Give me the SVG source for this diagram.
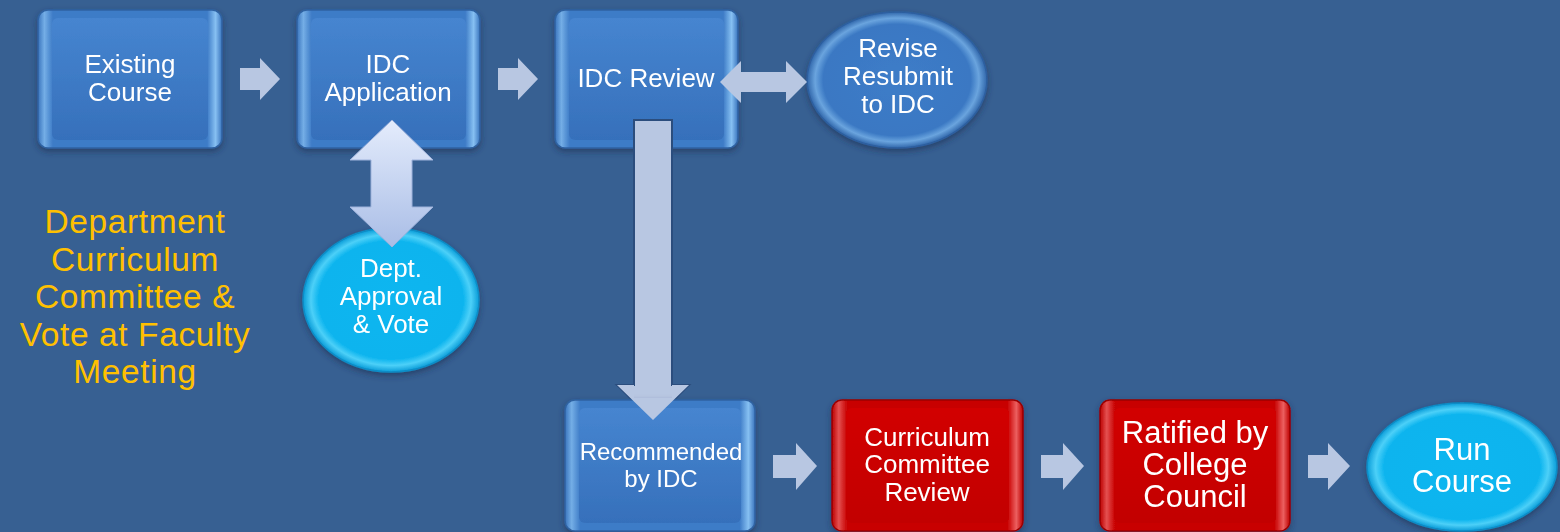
<svg xmlns="http://www.w3.org/2000/svg" width="1560" height="532" viewBox="0 0 1560 532">
<defs>
<linearGradient id="bEdge" x1="0" y1="0" x2="1" y2="0">
<stop offset="0" stop-color="#3a74bd"/><stop offset="0.035" stop-color="#74aee6"/><stop offset="0.08" stop-color="#3e7cc7"/><stop offset="0.92" stop-color="#3e7cc7"/><stop offset="0.965" stop-color="#86c0f2"/><stop offset="1" stop-color="#3a74bd"/>
</linearGradient>
<linearGradient id="bFace" x1="0" y1="0" x2="0" y2="1">
<stop offset="0" stop-color="#4685d0"/><stop offset="1" stop-color="#3670bb"/>
</linearGradient>
<linearGradient id="rEdge" x1="0" y1="0" x2="1" y2="0">
<stop offset="0" stop-color="#bc0000"/><stop offset="0.035" stop-color="#e45050"/><stop offset="0.08" stop-color="#c80000"/><stop offset="0.92" stop-color="#c80000"/><stop offset="0.965" stop-color="#ec6060"/><stop offset="1" stop-color="#bc0000"/>
</linearGradient>
<linearGradient id="rFace" x1="0" y1="0" x2="0" y2="1">
<stop offset="0" stop-color="#d20000"/><stop offset="1" stop-color="#c20000"/>
</linearGradient>
<radialGradient id="cyanE" cx="0.5" cy="0.5" r="0.5">
<stop offset="0" stop-color="#08b6f0"/><stop offset="0.82" stop-color="#0cb4ee"/><stop offset="0.91" stop-color="#4cd0f8"/><stop offset="1" stop-color="#0a9cd8"/>
</radialGradient>
<radialGradient id="blueE" cx="0.5" cy="0.5" r="0.5">
<stop offset="0" stop-color="#3d7cc8"/><stop offset="0.82" stop-color="#3a78c3"/><stop offset="0.91" stop-color="#6aa4de"/><stop offset="1" stop-color="#3066aa"/>
</radialGradient>
<linearGradient id="vArrow" x1="0" y1="0" x2="0" y2="1">
<stop offset="0" stop-color="#e4ecfc"/><stop offset="1" stop-color="#a9bde6"/>
</linearGradient>
<filter id="sh" x="-10%" y="-10%" width="120%" height="125%">
<feDropShadow dx="0" dy="3" stdDeviation="3" flood-color="#1a2f50" flood-opacity="0.6"/>
</filter>
</defs>
<style>
.t{font-family:"Liberation Sans",Arial,sans-serif;fill:#ffffff;text-anchor:middle;}
.y{font-family:"Liberation Sans",Arial,sans-serif;fill:#ffc000;text-anchor:middle;font-size:33.5px;letter-spacing:0.6px;}
.arr{fill:#b8c7e2;}
.bout{fill:url(#bEdge);stroke:#2f62a2;stroke-width:1.5;}
.bin{fill:url(#bFace);}
.rout{fill:url(#rEdge);stroke:#9a0000;stroke-width:1.5;}
.rin{fill:url(#rFace);}
</style>
<rect width="1560" height="532" fill="#376092"/>

<g id="existing-course" filter="url(#sh)">
<rect class="bout" x="38" y="10" width="184" height="138" rx="10"/>
<rect class="bin" x="52" y="18" width="156" height="122" rx="6"/>
<text class="t" font-size="26"><tspan x="130" y="73">Existing</tspan><tspan x="130" y="101">Course</tspan></text>
</g>

<g id="idc-application" filter="url(#sh)">
<rect class="bout" x="297" y="10" width="183" height="138" rx="10"/>
<rect class="bin" x="311" y="18" width="155" height="122" rx="6"/>
<text class="t" font-size="26"><tspan x="388" y="73">IDC</tspan><tspan x="388" y="101">Application</tspan></text>
</g>

<g id="idc-review" filter="url(#sh)">
<rect class="bout" x="555" y="10" width="183" height="138" rx="10"/>
<rect class="bin" x="569" y="18" width="155" height="122" rx="6"/>
<text class="t" font-size="26" x="646" y="87">IDC Review</text>
</g>

<g id="revise-resubmit" filter="url(#sh)">
<ellipse cx="897" cy="80" rx="90" ry="68" fill="url(#blueE)" stroke="#2d5f9f" stroke-width="1.5"/>
<text class="t" font-size="26"><tspan x="898" y="57">Revise</tspan><tspan x="898" y="85">Resubmit</tspan><tspan x="898" y="113">to IDC</tspan></text>
</g>

<g id="dept-approval" filter="url(#sh)">
<ellipse cx="391" cy="300" rx="88" ry="72" fill="url(#cyanE)" stroke="#0a8cc6" stroke-width="1.5"/>
<text class="t" font-size="26"><tspan x="391" y="277">Dept.</tspan><tspan x="391" y="305">Approval</tspan><tspan x="391" y="333">&amp; Vote</tspan></text>
</g>

<g id="dept-curriculum-label">
<text class="y"><tspan x="135" y="233">Department</tspan><tspan x="135" y="270.5">Curriculum</tspan><tspan x="135" y="308">Committee &amp;</tspan><tspan x="135" y="345.5">Vote at Faculty</tspan><tspan x="135" y="383">Meeting</tspan></text>
</g>

<g id="connectors">
<polygon class="arr" points="240,68 260,68 260,58 280,79 260,100 260,90 240,90"/>
<polygon class="arr" points="498,68 518,68 518,58 538,79 518,100 518,90 498,90"/>
<polygon class="arr" points="720,82 741,61 741,72 786,72 786,61 807,82 786,103 786,92 741,92 741,103"/>
<polygon fill="url(#vArrow)" stroke="#9fb3dc" stroke-width="1" points="392,120 433,160 412,160 412,207 433,207 392,247 350,207 371,207 371,160 350,160"/>
<polygon class="arr" stroke="#2b4d7d" stroke-width="2" points="634,120 672,120 672,385 689,385 653,420 617,385 634,385"/>
<polygon class="arr" points="773,455 796,455 796,443 817,466 796,490 796,478 773,478"/>
<polygon class="arr" points="1041,455 1063,455 1063,443 1084,466 1063,490 1063,478 1041,478"/>
<polygon class="arr" points="1308,455 1328,455 1328,443 1350,466 1328,490 1328,478 1308,478"/>
</g>

<g id="recommended" filter="url(#sh)">
<rect class="bout" x="565" y="400" width="190" height="131" rx="10"/>
<rect class="bin" x="579" y="408" width="162" height="115" rx="6"/>
<text class="t" font-size="24"><tspan x="661" y="460">Recommended</tspan><tspan x="661" y="487">by IDC</tspan></text>
</g>
<polygon class="arr" points="634,398 672,398 672,385 689,385 653,420 617,385 634,385"/>

<g id="curriculum-committee" filter="url(#sh)">
<rect class="rout" x="832" y="400" width="191" height="131" rx="10"/>
<rect class="rin" x="846" y="408" width="163" height="115" rx="6"/>
<text class="t" font-size="26"><tspan x="927" y="446">Curriculum</tspan><tspan x="927" y="473">Committee</tspan><tspan x="927" y="501">Review</tspan></text>
</g>

<g id="ratified" filter="url(#sh)">
<rect class="rout" x="1100" y="400" width="190" height="131" rx="10"/>
<rect class="rin" x="1114" y="408" width="162" height="115" rx="6"/>
<text class="t" font-size="31"><tspan x="1195" y="443">Ratified by</tspan><tspan x="1195" y="475">College</tspan><tspan x="1195" y="507">Council</tspan></text>
</g>

<g id="run-course" filter="url(#sh)">
<ellipse cx="1462" cy="467" rx="95" ry="64" fill="url(#cyanE)" stroke="#0a8cc6" stroke-width="1.5"/>
<text class="t" font-size="31"><tspan x="1462" y="460">Run</tspan><tspan x="1462" y="492">Course</tspan></text>
</g>
</svg>
